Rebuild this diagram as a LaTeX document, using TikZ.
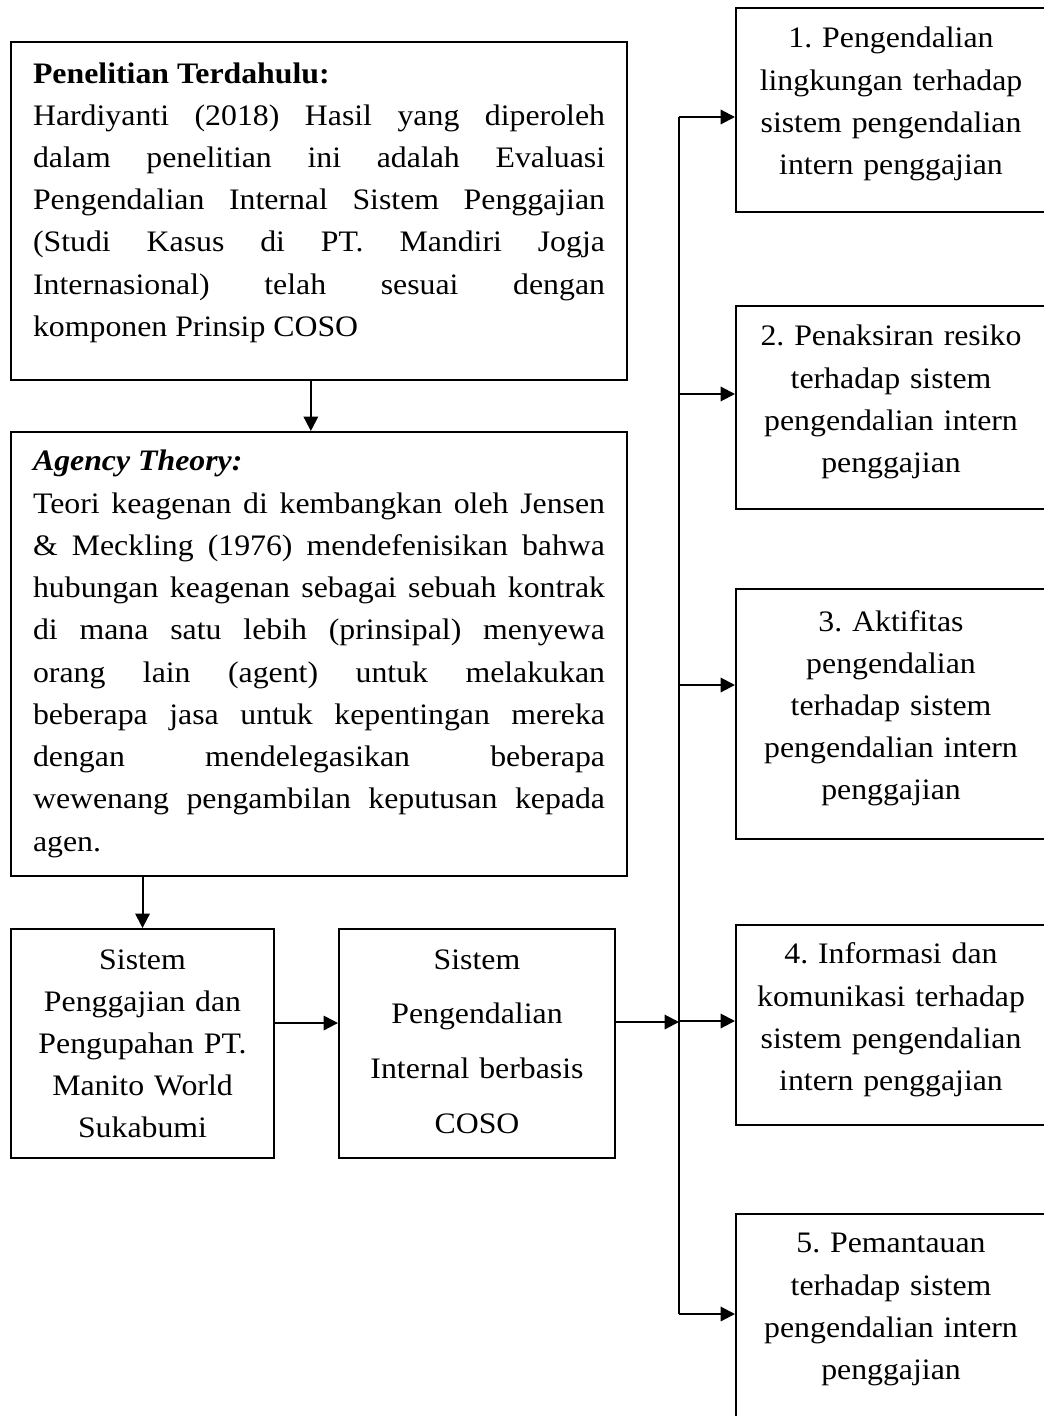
\documentclass[tikz,border=0pt]{standalone}
\usepackage{fontspec}
\setmainfont{Liberation Serif}[FakeStretch=1.07]
\usetikzlibrary{arrows.meta}
\frenchspacing

\begin{document}
\begin{tikzpicture}[x=0.4878pt,y=-0.4878pt,line width=1pt,>={Triangle[length=7pt,width=7pt]},
	box/.style={draw,anchor=north west,inner ysep=0pt,font=\fontsize{14.5pt}{20.6pt}\selectfont},
	wide/.style={box,inner xsep=10.75pt,text width=279pt,align=justify},
	small/.style={box,inner xsep=4pt,align=center,text height=19.5pt,text depth=92.2pt},
	item/.style={box,inner xsep=6pt,text width=139.2pt,align=center}]
	\useasboundingbox (0,0) rectangle (1043,1416);

	\node[wide,text height=20pt,text depth=144.9pt] (prev) at (10,41) {\textbf{Penelitian Terdahulu:}\\
		Hardiyanti (2018) Hasil yang diperoleh\linebreak
		dalam penelitian ini adalah Evaluasi\linebreak
		Pengendalian Internal Sistem Penggajian\linebreak
		(Studi Kasus di PT. Mandiri Jogja\linebreak
		Internasional) telah sesuai dengan\linebreak
		komponen Prinsip COSO};
	\node[wide,text height=19pt,text depth=197.6pt] (agency) at (10,431) {\textbf{\textit{Agency Theory:}}\\
		Teori keagenan di kembangkan oleh Jensen\linebreak
		\& Meckling (1976) mendefenisikan bahwa\linebreak
		hubungan keagenan sebagai sebuah kontrak\linebreak
		di mana satu lebih (prinsipal) menyewa\linebreak
		orang lain (agent) untuk melakukan\linebreak
		beberapa jasa untuk kepentingan mereka\linebreak
		dengan mendelegasikan beberapa\linebreak
		wewenang pengambilan keputusan kepada\linebreak
		agen.};
	\node[small,text width=120.3pt] (sys) at (10,928) {Sistem\\ Penggajian dan\\ Pengupahan PT.\\ Manito World\\ Sukabumi};
	\node[small,text width=126.6pt,font=\fontsize{14.5pt}{26.8pt}\selectfont] (spi) at (338,928) {Sistem\\ Pengendalian\\ Internal berbasis\\ COSO};

	\node[item,text height=19.5pt,text depth=80pt] (r1) at (735,7) {1. Pengendalian\\ lingkungan terhadap\\ sistem pengendalian\\ intern penggajian};
	\node[item,text height=19.5pt,text depth=79.5pt] (r2) at (735,305) {2. Penaksiran resiko\\ terhadap sistem\\ pengendalian intern\\ penggajian};
	\node[item,text height=20.5pt,text depth=101.5pt] (r3) at (735,588) {3. Aktifitas\\ pengendalian\\ terhadap sistem\\ pengendalian intern\\ penggajian};
	\node[item,text height=19pt,text depth=78.5pt] (r4) at (735,924) {4. Informasi dan\\ komunikasi terhadap\\ sistem pengendalian\\ intern penggajian};
	\node[item,text height=19pt,text depth=86.8pt] (r5) at (735,1213) {5. Pemantauan\\ terhadap sistem\\ pengendalian intern\\ penggajian};

	\coordinate (b1) at (679,117);
	\coordinate (b2) at (679,394);
	\coordinate (b3) at (679,685);
	\coordinate (b4) at (679,1021);
	\coordinate (b5) at (679,1314);
	\coordinate (j) at (679,1022);

	\path[->] ([xshift=-4pt]prev.south) edge ([xshift=-4pt]agency.north);
	\path[->] (agency.south -| sys.north) edge (sys.north);
	\path[->] ([yshift=10pt]sys.east) edge ([yshift=10pt]spi.west);
	\path[->] (j -| spi.east) edge (j);
	\draw (b1) -- (b5);
	\foreach \i in {1,...,5}
		\path[->] (b\i) edge (b\i -| r\i.west);
\end{tikzpicture}
\end{document}
